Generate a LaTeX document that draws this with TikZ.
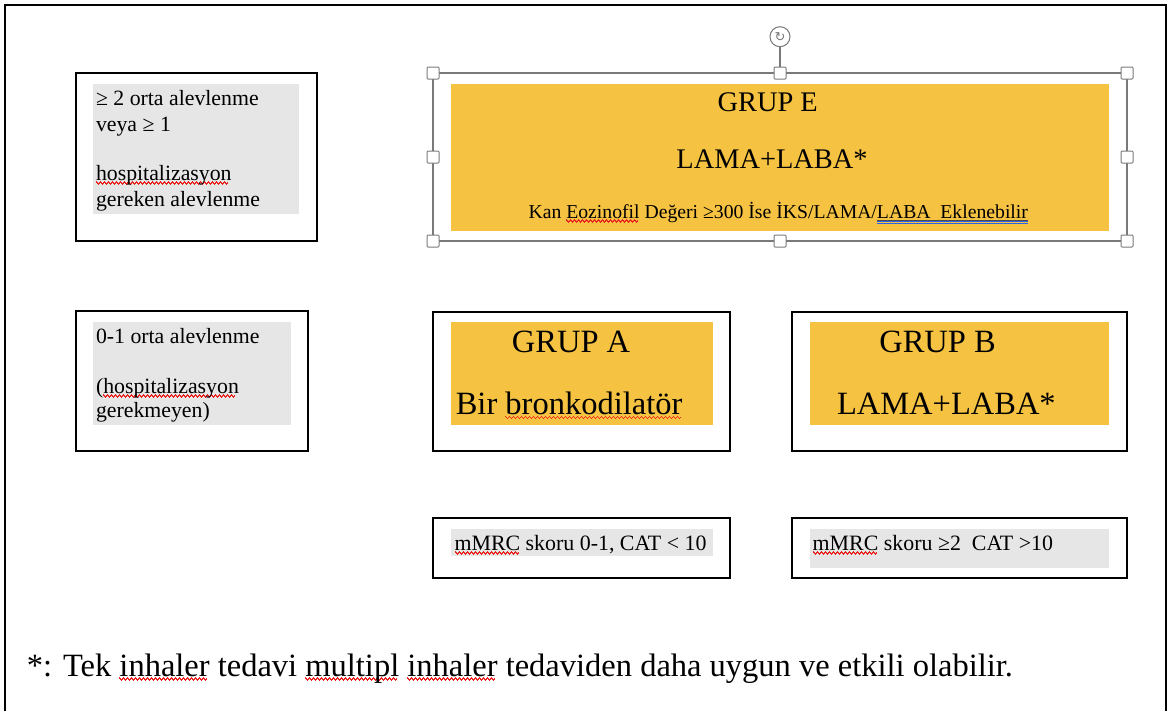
\documentclass[tikz,border=0pt]{standalone}
\usepackage{fontspec}
\setmainfont{Liberation Serif}
\newfontfamily\dejavu{DejaVu Sans}
\usetikzlibrary{arrows.meta}
\definecolor{gorange}{HTML}{F5C242}
\definecolor{lgray}{HTML}{E6E6E6}
\definecolor{hgray}{HTML}{7A7A7A}
\definecolor{ublue}{HTML}{2A62E8}
\definecolor{wred}{HTML}{E8221C}
\newsavebox\wordbox
\newcommand\rwave[1]{\sbox\wordbox{#1}\rlap{\color{wred}\hbox to \wd\wordbox{\leaders\hbox{\rule[-2.6pt]{1pt}{1.2pt}\rule[-3.6pt]{1pt}{1.2pt}\rule[-4.6pt]{1pt}{1.2pt}\rule[-3.6pt]{1pt}{1.2pt}}\hfill}}\usebox\wordbox}
\newcommand\bdline[1]{\sbox\wordbox{#1}\rlap{\color{black!70}\rule[-2.3pt]{\wd\wordbox}{.7pt}\llap{\color{ublue}\rule[-4.3pt]{\wd\wordbox}{1.2pt}}\llap{\color{ublue}\rule[-6.3pt]{\wd\wordbox}{1.2pt}}}\usebox\wordbox}
\newcommand\fsz[1]{\fontsize{#1}{#1}\selectfont}
\begin{document}
\begin{tikzpicture}[x=1pt,y=-1pt,
  bbox/.style={draw=black, line width=1.5pt, inner sep=0pt, outer sep=0pt},
  gbox/.style={fill=lgray, inner sep=0pt, outer sep=0pt},
  obox/.style={fill=gorange, inner sep=0pt, outer sep=0pt},
  txt/.style={inner sep=0pt, outer sep=0pt, anchor=base west},
  ctxt/.style={inner sep=0pt, outer sep=0pt, anchor=base},
  handle/.style={draw=hgray, fill=white, line width=1pt, minimum size=12pt, inner sep=0pt, rounded corners=1pt},
  selframe/.style={draw=hgray, line width=1.5pt, inner sep=0pt, outer sep=0pt}]
\useasboundingbox (0,0) rectangle (1173,710);
\fill[white] (0,0) rectangle (1173,710);
% outer frame
\coordinate (f1) at (5,712);
\coordinate (f2) at (5,5);
\coordinate (f3) at (1166,5);
\coordinate (f4) at (1166,712);
\draw[line width=2pt] (f1) -- (f2) -- (f3) -- (f4);

% left top box
\node[bbox, minimum width=241pt, minimum height=168pt] (L1) at (196.5,157) {};
\node[gbox, minimum width=206pt, minimum height=130pt] (L1g) at (196,149) {};
\node[txt] (L1a) at (96,105) {\fsz{21.8}≥ 2 orta alevlenme};
\node[txt] (L1b) at (96,131.7) {\fsz{21.8}veya ≥ 1};
\node[txt] (L1c) at (96,180) {\fsz{21.8}\rwave{hospitalizasyon}};
\node[txt] (L1d) at (96,206.7) {\fsz{21.8}gereken alevlenme};

% left middle box
\node[bbox, minimum width=232pt, minimum height=140pt] (L2) at (192,381) {};
\node[gbox, minimum width=198pt, minimum height=103pt] (L2g) at (192,373.5) {};
\node[txt] (L2a) at (96,343) {\fsz{21.8}0-1 orta alevlenme};
\node[txt] (L2b) at (96,393) {\fsz{21.8}(\rwave{hospitalizasyon}};
\node[txt] (L2c) at (96,417) {\fsz{21.8}gerekmeyen)};

% group E (selected)
\node[selframe, minimum width=694pt, minimum height=168pt] (E) at (780,157) {};
\node[obox, minimum width=658pt, minimum height=146.7pt] (Eo) at (780,157.3) {};
\node[ctxt] (Et1) at (767.7,111.7) {\fsz{28.4}GRUP E};
\node[ctxt] (Et2) at (772,168) {\fsz{28.4}LAMA+LABA*};
\node[ctxt] (Et3) at (778.3,218) {\fsz{19.7}Kan \rwave{Eozinofil} Değeri ≥300 İse İKS/LAMA/\bdline{LABA\kern.25em\ Eklenebilir}};
\node[handle] (h1) at (433,73) {};
\node[handle] (h2) at (780,73) {};
\node[handle] (h3) at (1127,73) {};
\node[handle] (h4) at (433,157) {};
\node[handle] (h5) at (1127,157) {};
\node[handle] (h6) at (433,241) {};
\node[handle] (h7) at (780,241) {};
\node[handle] (h8) at (1127,241) {};
\node[circle, draw=hgray, fill=white, line width=1pt, minimum size=20pt, inner sep=0pt] (rot) at (780,36.7) {};
\node[inner sep=0pt, text=hgray] (rotg) at (780,37) {\dejavu\fontsize{13}{13}\selectfont ↻};
\draw[hgray, line width=1.2pt] (rot.south) -- (h2.north);

% group A
\node[bbox, minimum width=297pt, minimum height=139pt] (A) at (581.5,381.5) {};
\node[obox, minimum width=262pt, minimum height=103pt] (Ao) at (582,373.5) {};
\node[txt] (At1) at (511.9,352.7) {\fsz{32.5}GRUP A};
\node[txt] (At2) at (455.8,414.3) {\fsz{32.5}Bir \rwave{bronkodilatör}};

% group B
\node[bbox, minimum width=335pt, minimum height=139pt] (B) at (959.5,381.5) {};
\node[obox, minimum width=299pt, minimum height=103pt] (Bo) at (959.5,373.5) {};
\node[txt] (Bt1) at (879.3,352.7) {\fsz{32.5}GRUP B};
\node[txt] (Bt2) at (837,414.3) {\fsz{32.5}LAMA+LABA*};

% mMRC boxes
\node[bbox, minimum width=297pt, minimum height=60pt] (MA) at (581.5,548) {};
\node[gbox, minimum width=262pt, minimum height=27pt] (MAg) at (582,542.5) {};
\node[txt] (MAt) at (454.5,550) {\fsz{21.9}\rwave{mMRC} skoru 0-1, CAT < 10};
\node[bbox, minimum width=335pt, minimum height=60pt] (MB) at (959.5,548) {};
\node[gbox, minimum width=299pt, minimum height=39pt] (MBg) at (959.5,548.5) {};
\node[txt] (MBt) at (812.7,550) {\fsz{21.9}\rwave{mMRC} skoru ≥2\ \ CAT >10};

% footer
\node[txt] (foot) at (27,676) {\fsz{32.5}*: Tek \rwave{inhaler} tedavi \rwave{multipl} \rwave{inhaler} tedaviden daha uygun ve etkili olabilir.};
\end{tikzpicture}
\end{document}
